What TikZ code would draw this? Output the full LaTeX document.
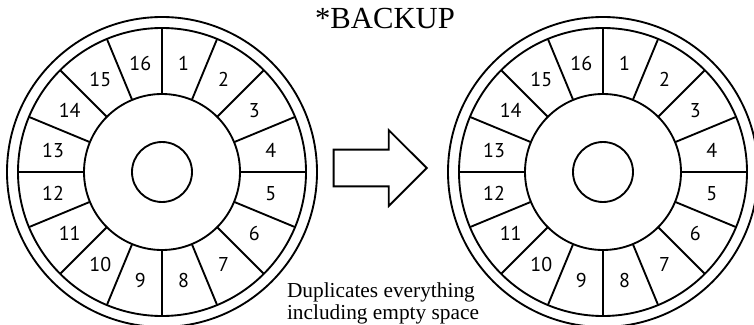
\documentclass[tikz,border=0pt]{standalone}
\usepackage{fontspec}
\setmainfont{Liberation Serif}
\newfontfamily\sectorfont{PT Sans}
\usetikzlibrary{shapes.arrows}

\tikzset{every picture/.style={line width=1.4pt}}
\tikzset{
  sectornum/.style={font=\sectorfont\fontsize{15}{15}\selectfont, inner sep=0pt},
  titletext/.style={font=\fontsize{23}{26}\selectfont, inner sep=0pt},
  notetext/.style={font=\fontsize{16}{16.5}\selectfont, align=left, inner sep=0pt},
  copyarrow/.style={single arrow, draw, inner xsep=0pt, inner ysep=13.1pt, minimum height=69.75pt,
    minimum width=55.5pt, single arrow head extend=14.6pt, single arrow tip angle=90}
}

\begin{document}
\begin{tikzpicture}[x=0.75pt,y=0.75pt,yscale=-1,xscale=1]
\useasboundingbox (0,0) rectangle (754,325);

%Text: title
\node[titletext] (title) at (385,18) {*BACKUP};

%Shape: Disks (source and copy)
\foreach \cx/\dn in {162/L,603/R}{
  \begin{scope}[shift={(\cx,172)}]
    %Shape: Circle
    \draw (0,0) circle [radius=155];
    \draw (0,0) circle [radius=144];
    \draw (0,0) circle [radius=78];
    \draw (0,0) circle [radius=30];
    %Straight Lines: sector borders
    \foreach \k in {0,...,15}{
      \draw (22.5*\k:78) -- (22.5*\k:144);
    }
    %Text: sector numbers
    \foreach \k in {1,...,16}{
      \node[sectornum] (\dn\k) at (22.5*\k-101.25:111) {\k};
    }
  \end{scope}
}

%Shape: Right Arrow
\node[copyarrow, anchor=tip] (copy) at (428,168) {};

%Text: caption
\node[notetext] (note) at (383,303) {Duplicates everything\\including empty space};

\end{tikzpicture}
\end{document}
